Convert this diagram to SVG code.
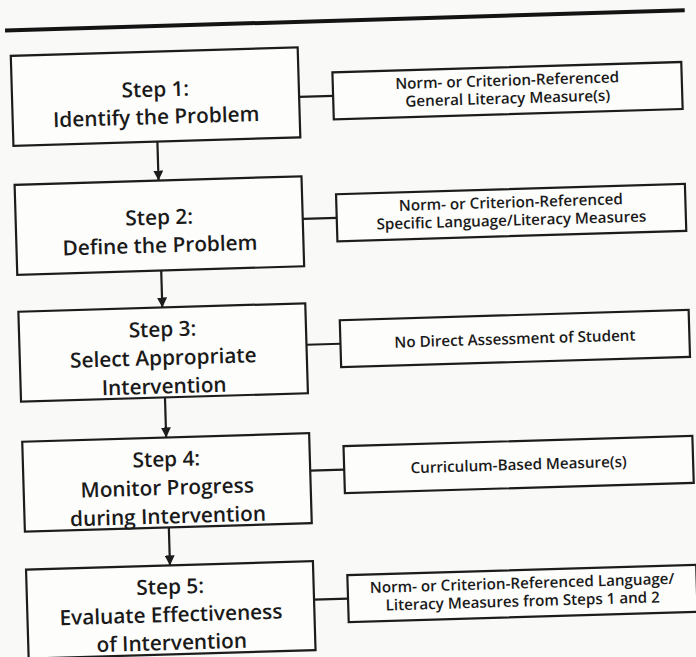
<svg xmlns="http://www.w3.org/2000/svg" width="696" height="657" viewBox="0 0 696 657">
  <style>
    .box { fill: #fdfdfc; stroke: #1c1c1c; stroke-width: 2.2; }
    .conn { stroke: #1c1c1c; stroke-width: 2.2; fill: none; }
    .main { font-family: "Open Sans", "Noto Sans", sans-serif; font-size: 20.8px; font-weight: 600; fill: #1a1a1a; text-anchor: middle; }
    .side { font-family: "Open Sans", "Noto Sans", sans-serif; font-size: 15.2px; font-weight: 600; fill: #1a1a1a; text-anchor: middle; }
  </style>
  <defs>
    <marker id="arrow" viewBox="0 0 10 10" refX="10" refY="5" markerWidth="10" markerHeight="10" markerUnits="userSpaceOnUse" orient="auto">
      <path d="M0,0 L10,5 L0,10 Z" fill="#1c1c1c"/>
    </marker>
  </defs>
  <rect x="0" y="0" width="696" height="657" fill="#f9f9f8"/>
  <g transform="rotate(-1.7 348 328)">
    <line x1="14" y1="20.5" x2="694" y2="20.5" stroke="#141414" stroke-width="4"/>

    <g id="connectors">
      <line class="conn" x1="163" y1="136" x2="163" y2="175" marker-end="url(#arrow)"/>
      <line class="conn" x1="163" y1="265" x2="163" y2="302" marker-end="url(#arrow)"/>
      <line class="conn" x1="163" y1="392" x2="163" y2="432" marker-end="url(#arrow)"/>
      <line class="conn" x1="163" y1="522" x2="163" y2="560" marker-end="url(#arrow)"/>
      <line class="conn" x1="306" y1="95.5" x2="340" y2="95.5"/>
      <line class="conn" x1="306" y1="217.5" x2="340" y2="217.5"/>
      <line class="conn" x1="306" y1="343.5" x2="340" y2="343.5"/>
      <line class="conn" x1="306" y1="469.5" x2="340" y2="469.5"/>
      <line class="conn" x1="306" y1="598.5" x2="340" y2="598.5"/>
    </g>

    <g id="step1">
      <rect class="box" x="19" y="46" width="287" height="90"/>
      <text class="main" x="162.5" y="91">Step 1:</text>
      <text class="main" x="162.5" y="118.5">Identify the Problem</text>
    </g>
    <g id="step2">
      <rect class="box" x="19" y="175" width="287" height="90"/>
      <text class="main" x="162.5" y="219">Step 2:</text>
      <text class="main" x="162.5" y="247">Define the Problem</text>
    </g>
    <g id="step3">
      <rect class="box" x="19" y="302" width="287" height="90"/>
      <text class="main" x="162.5" y="331">Step 3:</text>
      <text class="main" x="162.5" y="359.5">Select Appropriate</text>
      <text class="main" x="162.5" y="388">Intervention</text>
    </g>
    <g id="step4">
      <rect class="box" x="19" y="432" width="287" height="90"/>
      <text class="main" x="162.5" y="461">Step 4:</text>
      <text class="main" x="162.5" y="489.5">Monitor Progress</text>
      <text class="main" x="162.5" y="518">during Intervention</text>
    </g>
    <g id="step5">
      <rect class="box" x="19" y="560" width="287" height="89"/>
      <text class="main" x="162.5" y="588.5">Step 5:</text>
      <text class="main" x="162.5" y="616.5">Evaluate Effectiveness</text>
      <text class="main" x="162.5" y="644.5">of Intervention</text>
    </g>

    <g id="measure1">
      <rect class="box" x="340" y="72" width="349" height="47"/>
      <text class="side" x="514.5" y="90.5">Norm- or Criterion-Referenced</text>
      <text class="side" x="514.5" y="108.5">General Literacy Measure(s)</text>
    </g>
    <g id="measure2">
      <rect class="box" x="340" y="194" width="349" height="47"/>
      <text class="side" x="514.5" y="212.5">Norm- or Criterion-Referenced</text>
      <text class="side" x="514.5" y="230.5">Specific Language/Literacy Measures</text>
    </g>
    <g id="measure3">
      <rect class="box" x="340" y="320" width="349" height="47"/>
      <text class="side" x="514.5" y="349">No Direct Assessment of Student</text>
    </g>
    <g id="measure4">
      <rect class="box" x="340" y="446" width="349" height="47"/>
      <text class="side" x="514.5" y="475">Curriculum-Based Measure(s)</text>
    </g>
    <g id="measure5">
      <rect class="box" x="340" y="575" width="349" height="47"/>
      <text class="side" x="514.5" y="593.5">Norm- or Criterion-Referenced Language/</text>
      <text class="side" x="514.5" y="611.5">Literacy Measures from Steps 1 and 2</text>
    </g>
  </g>
</svg>
